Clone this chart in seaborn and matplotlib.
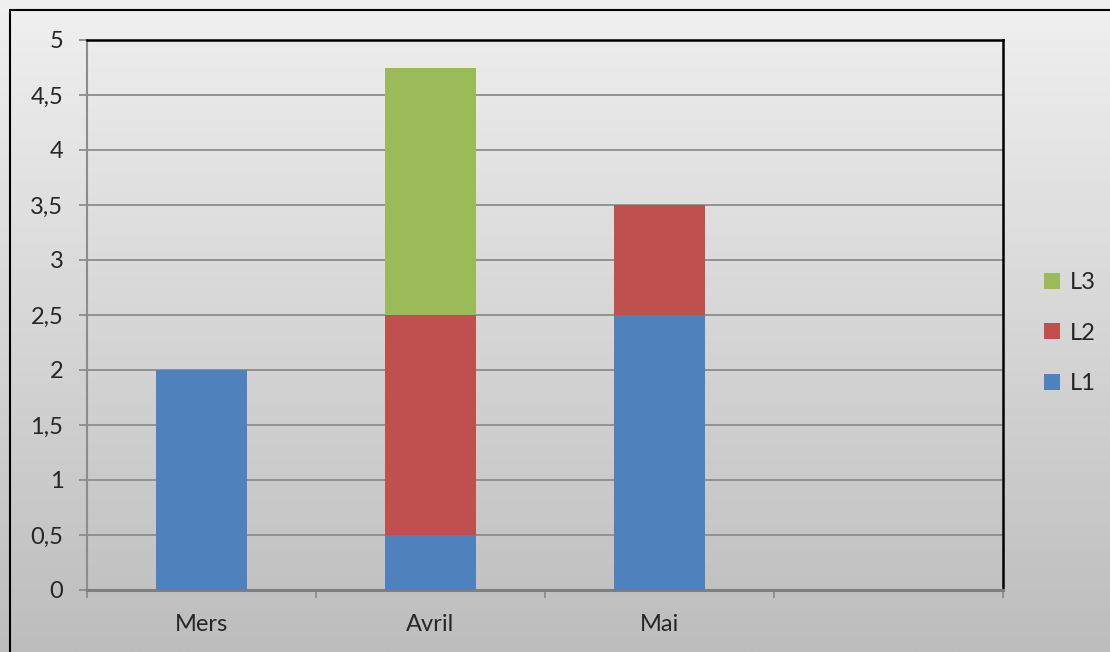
import numpy as np
import pandas as pd
import matplotlib
matplotlib.use('Agg')
from matplotlib import pyplot as plt
from matplotlib.patches import Rectangle
import seaborn as sns

months = ['Mers', 'Avril', 'Mai', ' ']
series = ['L1', 'L2', 'L3']
l1 = [2.0, 0.5, 2.5, 0.0]
l2 = [0.0, 2.0, 1.0, 0.0]
l3 = [0.0, 2.25, 0.0, 0.0]
yticks = [0, 0.5, 1, 1.5, 2, 2.5, 3, 3.5, 4, 4.5, 5]
colors = {'L1': '#4f81bd', 'L2': '#c0504d', 'L3': '#9bbb59'}

df = pd.DataFrame({'month': months, 'L1': l1, 'L2': l2, 'L3': l3})
df['c1'] = df['L1']
df['c2'] = df['c1'] + df['L2']
df['c3'] = df['c2'] + df['L3']

sns.set_style('white')
plt.rcParams['font.family'] = ['Lato', 'DejaVu Sans']
plt.rcParams['font.size'] = 17

fig = plt.figure(figsize=(11.1, 6.52), dpi=100)

# figure background gradient
bg = fig.add_axes([0, 0, 1, 1], zorder=-10)
grad = np.linspace(0, 1, 256).reshape(-1, 1)
bg.imshow(grad, aspect='auto', cmap=matplotlib.colors.LinearSegmentedColormap.from_list(
    'g', ['#f0f0f0', '#bdbdbd']), extent=[0, 1, 0, 1], origin='upper')
bg.set_xlim(0, 1)
bg.set_ylim(0, 1)
bg.axis('off')
bg.add_patch(Rectangle((10 / 1110, -0.1), 1.2, 1 - 10 / 652 + 0.1,
                       fill=False, edgecolor='black', lw=1.5))

ax = fig.add_axes([87 / 1110, 62 / 652, 916 / 1110, 550 / 652])
ax.set_facecolor('none')

# plot area gradient
ax.imshow(grad, aspect='auto', cmap=matplotlib.colors.LinearSegmentedColormap.from_list(
    'p', ['#ececec', '#c2c2c2']), extent=[-0.5, 3.5, 0, 5], origin='upper', zorder=0)

for cum, name in [('c3', 'L3'), ('c2', 'L2'), ('c1', 'L1')]:
    sns.barplot(data=df, x='month', y=cum, color=colors[name], width=0.4,
                saturation=1, linewidth=0, ax=ax, zorder=3, label=name)

ax.set_xlim(-0.5, 3.5)
ax.set_ylim(0, 5)
ax.set_yticks(yticks)
ax.set_yticklabels([('%g' % v).replace('.', ',') for v in yticks])
for v in yticks[1:-1]:
    ax.axhline(v, color='#8c8c8c', lw=1.3, zorder=1)

ax.set_xticks(range(len(months)))
ax.set_xticklabels(months)
ax.set_xticks(np.arange(-0.5, 4, 1), minor=True)
ax.tick_params(axis='x', which='major', bottom=True, length=0, pad=17, labelsize=17)
ax.tick_params(axis='x', which='minor', bottom=True, length=6, color='#8c8c8c', width=1.3)
ax.tick_params(axis='y', left=True, length=6, color='#8c8c8c', width=1.3, pad=11, labelsize=17)
ax.set_xlabel('')
ax.set_ylabel('')

ax.spines['top'].set_color('black')
ax.spines['top'].set_linewidth(1.8)
ax.spines['right'].set_color('black')
ax.spines['right'].set_linewidth(1.8)
ax.spines['left'].set_color('#8c8c8c')
ax.spines['left'].set_linewidth(1.5)
ax.spines['bottom'].set_color('#7f7f7f')
ax.spines['bottom'].set_linewidth(2.2)

handles, labels = ax.get_legend_handles_labels()
ax.legend(handles, labels, loc='center left', bbox_to_anchor=(1.022, 0.467),
          frameon=False, handlelength=0.65, handleheight=0.65,
          labelspacing=1.25, handletextpad=0.45, fontsize=17)

fig.savefig('out.png', dpi=100)
